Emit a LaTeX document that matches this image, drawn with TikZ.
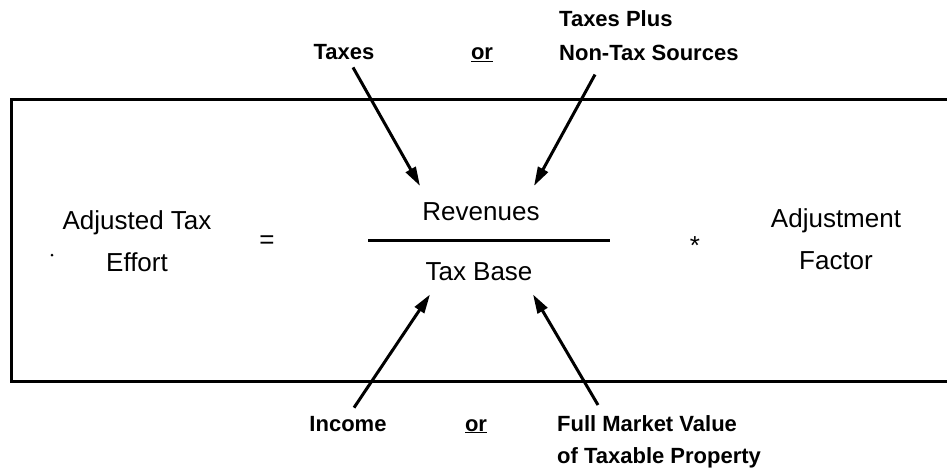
\documentclass[tikz,border=0pt]{standalone}
\usepackage{fontspec}
\setmainfont{Liberation Sans}
\usetikzlibrary{arrows.meta}

\begin{document}
\begin{tikzpicture}[x=1pt,y=-1pt,
  lbl/.style={font=\fontsize{22}{34}\selectfont\bfseries,inner sep=0pt},
  txt/.style={font=\fontsize{26}{42}\selectfont,inner sep=0pt},
  arr/.style={line width=3pt,-{Triangle[length=19pt,width=11pt]}}]
\useasboundingbox (0,0) rectangle (947,473);
\draw[line width=3pt] (947,100)--(11,100)--(11,381)--(947,381);

\node[lbl,anchor=base] (taxes) at (344,60) {Taxes};
\node[lbl,anchor=base] (orup) at (482,60) {\underline{or}};
\node[lbl,anchor=north west,align=left] (plus) at (559,10) {Taxes Plus\\Non-Tax Sources};

\node[txt,anchor=north,align=center] (adj) at (137,210) {Adjusted Tax\\Effort};
\node[txt] (eq) at (267,242) {=};
\node[txt,anchor=base] (rev) at (481,220) {Revenues};
\draw[line width=3pt] (368,240)--(610,240);
\node[txt,anchor=base] (base) at (479,280) {Tax Base};
\node[txt] (times) at (695,246) {*};
\node[txt,anchor=north,align=center] (fac) at (836,208) {Adjustment\\Factor};
\fill (52,255) circle (1.5pt);

\node[lbl,anchor=base] (income) at (348,431) {Income};
\node[lbl,anchor=base] (ordn) at (476,431) {\underline{or}};
\node[lbl,anchor=north west,align=left,font=\fontsize{22}{32}\selectfont\bfseries] (mkt) at (557,415) {Full Market Value\\of Taxable Property};

\draw[arr] ([xshift=9pt,yshift=-7pt]taxes.south) -- ([shift={(-61pt,16pt)}]rev.north);
\draw[arr] ([shift={(36pt,-14pt)}]plus.south west) -- ([shift={(53pt,16pt)}]rev.north);
\draw[arr] ([xshift=6pt,yshift=8pt]income.north) -- ([shift={(-49pt,-14pt)}]base.south);
\draw[arr] ([shift={(41pt,10pt)}]mkt.north west) -- ([shift={(54pt,-14pt)}]base.south);
\end{tikzpicture}
\end{document}
